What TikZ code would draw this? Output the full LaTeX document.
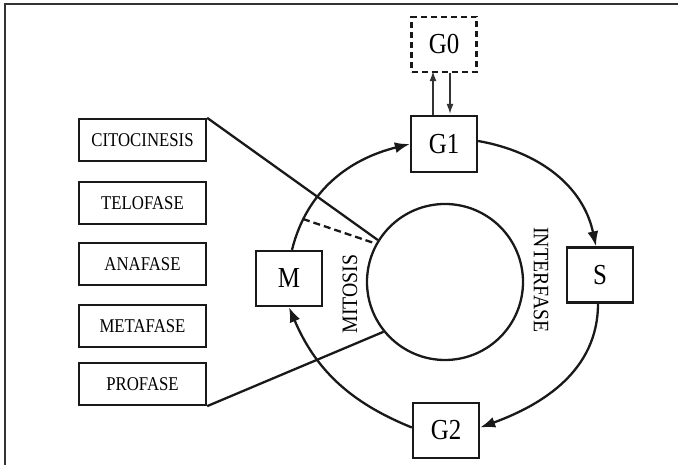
\documentclass[tikz,border=0pt]{standalone}
\usepackage{fontspec}
\setmainfont{Liberation Serif}[FakeStretch=0.86]
\newfontfamily\rotfont{Liberation Serif}[FakeStretch=0.9]
\usetikzlibrary{arrows.meta,calc}
\begin{document}
\begin{tikzpicture}[x=1pt,y=1pt,
  ink/.style={draw=black!90, line width=2.3pt},
  phasebox/.style={ink, minimum width=127pt, minimum height=42pt, inner sep=0pt, font=\fontsize{19.5}{20}\selectfont},
  stagebox/.style={ink, minimum width=66pt, minimum height=55pt, inner sep=0pt, font=\fontsize{29}{29}\selectfont},
  cyc/.style={draw=black!90, line width=2.3pt, -{Latex[length=15pt,width=11pt]}},
  thin/.style={draw=black!80, line width=1.3pt, -{Latex[length=10pt,width=7pt]}},
  rotlabel/.style={font=\rotfont\fontsize{22}{22}\selectfont, inner sep=0pt}
]
\useasboundingbox (0,0) rectangle (678,465);
% frame
\draw[draw=black!80, line width=1.5pt] (5,0) -- (5,461) -- (678,461);

% left phase boxes
\node[phasebox] (cito) at (142.5,325) {CITOCINESIS};
\node[phasebox] (telo) at (142.5,262) {TELOFASE};
\node[phasebox] (ana)  at (142.5,201) {ANAFASE};
\node[phasebox] (meta) at (142.5,139) {METAFASE};
\node[phasebox] (pro)  at (142.5,81)  {PROFASE};

% stages
\node[stagebox, dashed, dash pattern=on 6pt off 4pt, minimum width=65pt] (g0) at (444,420.5) {G0};
\node[stagebox, minimum height=56pt] (g1) at (444,321) {G1};
\node[stagebox] (s)  at (600,190) {S};
\node[stagebox] (g2) at (446,34.5) {G2};
\node[stagebox] (m)  at (289,186.5) {M};

% inner circle
\node[ink, circle, minimum size=156pt, inner sep=0pt] (core) at (445,183) {};

% labels
\node[rotlabel, rotate=90] (mit) at (350,171) {MITOSIS};
\node[rotlabel, rotate=-90] (int) at (541,185) {INTERFASE};

% cycle arrows
\draw[cyc] ([xshift=3pt]m.north) to[out=76,in=194] (g1.west);
\draw[cyc] ([yshift=3pt]g1.east) to[out=-10,in=102] ([xshift=-4pt]s.north);
\draw[cyc] ([xshift=-2pt]s.south) to[out=-90,in=20] ([yshift=3pt]g2.east);
\draw[cyc] ([yshift=3pt]g2.west) to[out=158,in=-67] (m.south);

% G0 <-> G1
\draw[thin] ([xshift=-11pt]g1.north) -- ([xshift=-11pt,yshift=2pt]g0.south);
\draw[thin] ([xshift=6pt]g0.south) -- ([xshift=6pt,yshift=1pt]g1.north);

% phase connectors
\coordinate (split) at (303,246);
\draw[ink] (cito.north east) -- (core.148);
\draw[ink] (pro.south east) -- (core.219);
\draw[ink, dashed, dash pattern=on 7pt off 4pt] (split) -- (core.151);
\end{tikzpicture}
\end{document}
